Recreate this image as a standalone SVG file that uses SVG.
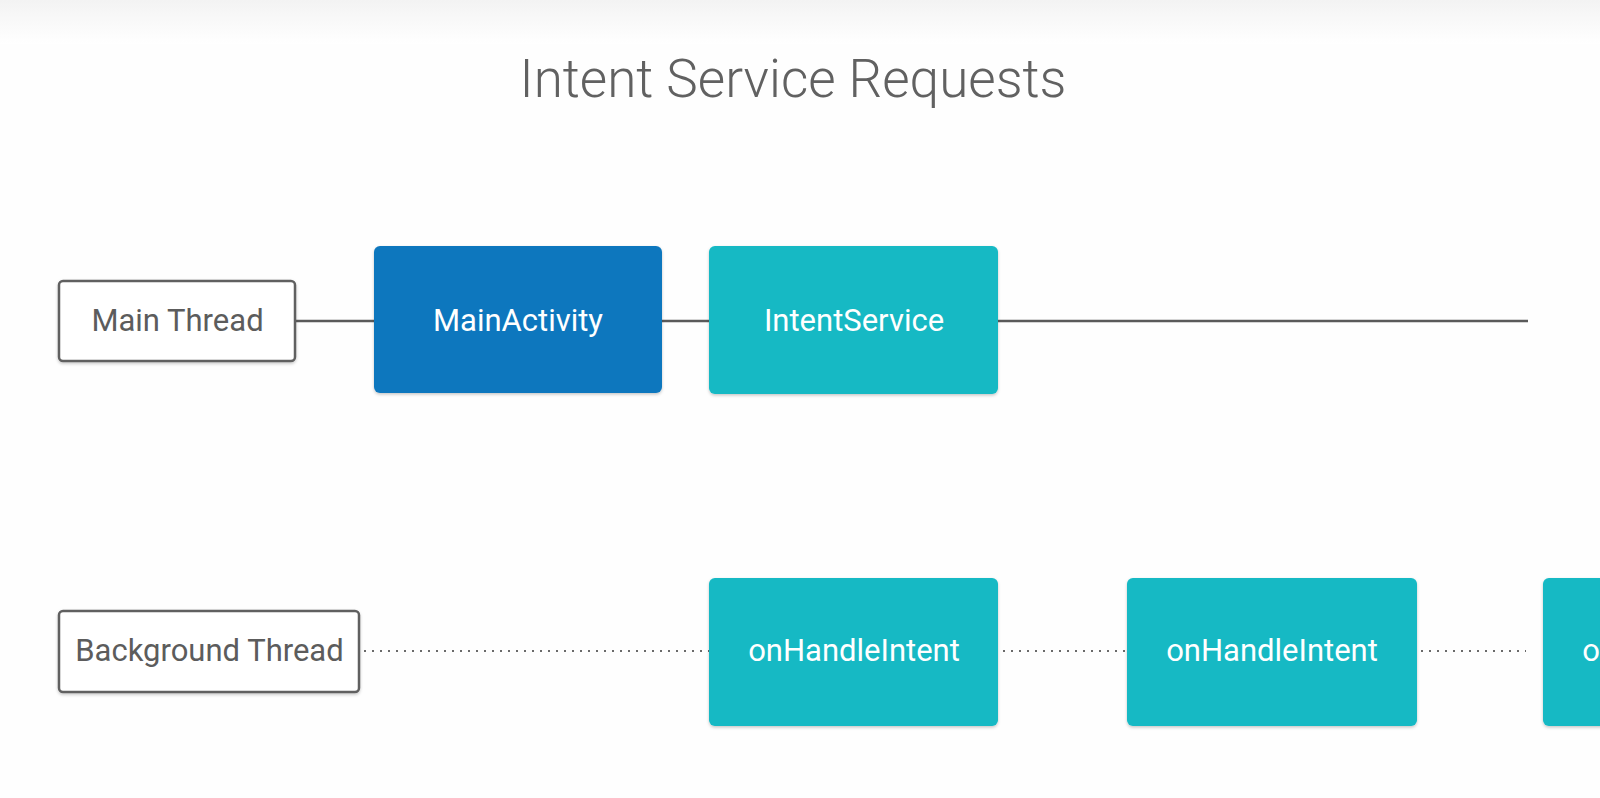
<svg xmlns="http://www.w3.org/2000/svg" width="1600" height="798" viewBox="0 0 1600 798">
<defs>
<linearGradient id="topfade" x1="0" y1="0" x2="0" y2="1">
<stop offset="0" stop-color="#f3f3f3"/>
<stop offset="1" stop-color="#ffffff"/>
</linearGradient>
<filter id="sh" x="-10%" y="-10%" width="120%" height="130%">
<feDropShadow dx="0" dy="1.5" stdDeviation="1.5" flood-color="#000" flood-opacity="0.22"/>
</filter>
<style>
.title{font-family:Roboto,"Liberation Sans",sans-serif;font-weight:300;font-size:53px;fill:#616161}
.lbl{font-family:Roboto,"Liberation Sans",sans-serif;font-size:31px;fill:#5c5c5c}
.wl{font-family:Roboto,"Liberation Sans",sans-serif;font-size:31px;fill:#ffffff}
.thread{fill:#ffffff;stroke:#616161;stroke-width:2.5}
.blue{fill:#0e77be}
.teal{fill:#13b9c4}
.solid{stroke:#5a5a5a;stroke-width:2.5;fill:none}
.dot{stroke:#6a6a6a;stroke-width:2;fill:none;stroke-dasharray:2 6}
</style>
</defs>
<rect x="0" y="0" width="1600" height="798" fill="#fefefe"/>
<rect x="0" y="0" width="1600" height="44" fill="url(#topfade)"/>
<text class="title" x="793" y="97" text-anchor="middle">Intent Service Requests</text>
<g id="connectors">
<line class="solid" x1="295" y1="321" x2="374" y2="321"/>
<line class="solid" x1="662" y1="321" x2="709" y2="321"/>
<line class="solid" x1="998" y1="321" x2="1528" y2="321"/>
<line class="dot" x1="364" y1="651" x2="709" y2="651"/>
<line class="dot" x1="1003" y1="651" x2="1127" y2="651"/>
<line class="dot" x1="1421" y1="651" x2="1526" y2="651"/>
</g>
<g id="main-thread">
<rect class="thread" x="59" y="281" width="236" height="80" rx="4" filter="url(#sh)"/>
<text class="lbl" x="177.5" y="331" text-anchor="middle">Main Thread</text>
</g>
<g id="main-activity">
<rect class="blue" x="374" y="246" width="288" height="147" rx="6" filter="url(#sh)"/>
<text class="wl" x="518" y="331" text-anchor="middle">MainActivity</text>
</g>
<g id="intent-service">
<rect class="teal" x="709" y="246" width="289" height="148" rx="6" filter="url(#sh)"/>
<text class="wl" x="854" y="331" text-anchor="middle">IntentService</text>
</g>
<g id="background-thread">
<rect class="thread" x="59" y="611" width="300" height="81" rx="4" filter="url(#sh)"/>
<text class="lbl" x="209.5" y="661" text-anchor="middle">Background Thread</text>
</g>
<g id="handle-1">
<rect class="teal" x="709" y="578" width="289" height="148" rx="6" filter="url(#sh)"/>
<text class="wl" x="854" y="661" text-anchor="middle">onHandleIntent</text>
</g>
<g id="handle-2">
<rect class="teal" x="1127" y="578" width="290" height="148" rx="6" filter="url(#sh)"/>
<text class="wl" x="1272" y="661" text-anchor="middle">onHandleIntent</text>
</g>
<g id="handle-3">
<rect class="teal" x="1543" y="578" width="290" height="148" rx="6" filter="url(#sh)"/>
<text class="wl" x="1688" y="661" text-anchor="middle">onHandleIntent</text>
</g>
</svg>
